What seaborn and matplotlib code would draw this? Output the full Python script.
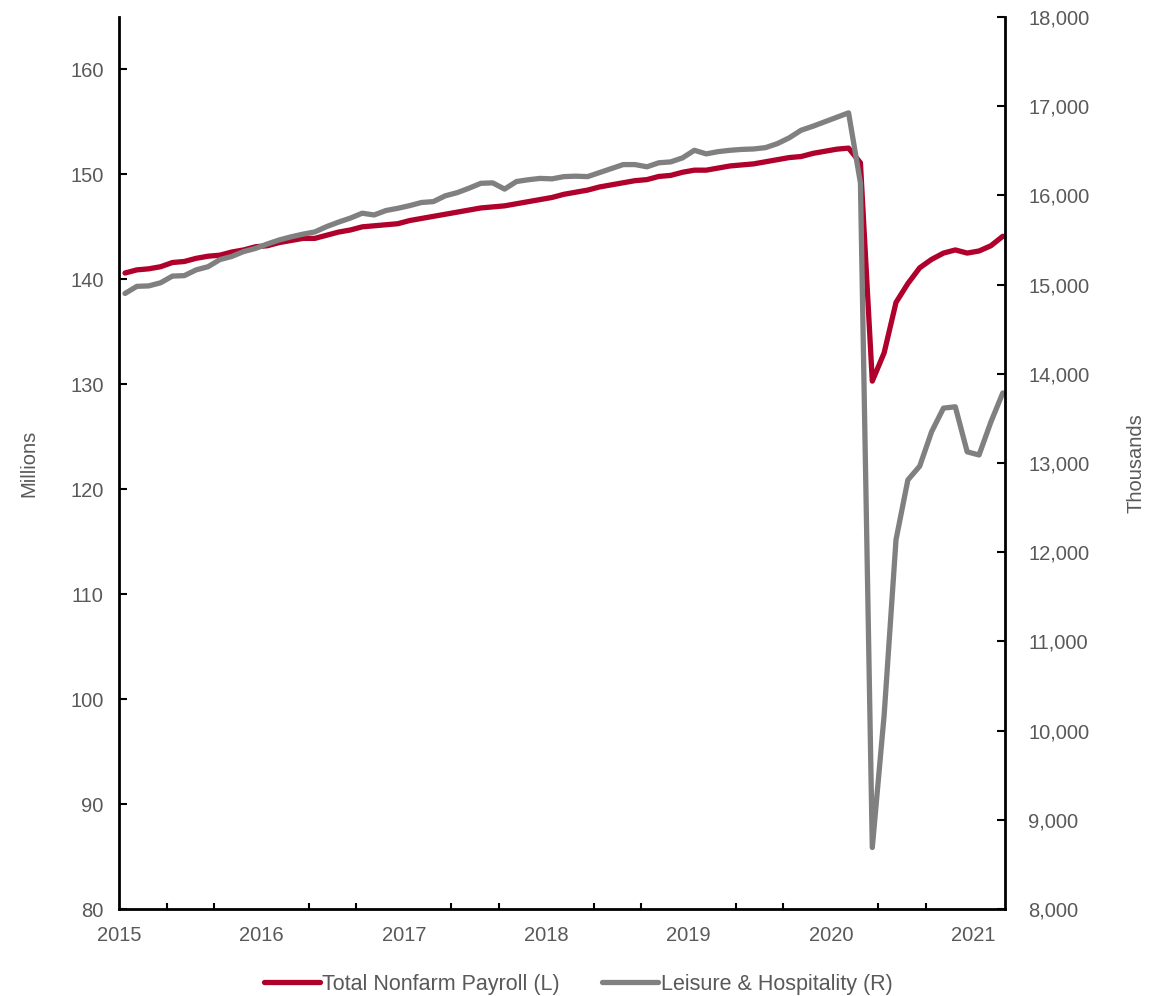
import numpy as np
import pandas as pd
import seaborn as sns
from matplotlib import pyplot as plt
from matplotlib.ticker import MultipleLocator, FuncFormatter

# monthly values, Jan 2015 .. Mar 2021
nonfarm_mn = [
    140.6, 140.9, 141.0, 141.2, 141.6, 141.7, 142.0, 142.2, 142.3, 142.6, 142.8, 143.1,
    143.2, 143.5, 143.7, 143.9, 143.9, 144.2, 144.5, 144.7, 145.0, 145.1, 145.2, 145.3,
    145.6, 145.8, 146.0, 146.2, 146.4, 146.6, 146.8, 146.9, 147.0, 147.2, 147.4, 147.6,
    147.8, 148.1, 148.3, 148.5, 148.8, 149.0, 149.2, 149.4, 149.5, 149.8, 149.9, 150.2,
    150.4, 150.4, 150.6, 150.8, 150.9, 151.0, 151.2, 151.4, 151.6, 151.7, 152.0, 152.2,
    152.4, 152.5, 151.1, 130.3, 133.0, 137.8, 139.6, 141.1, 141.9, 142.5, 142.8, 142.5,
    142.7, 143.2, 144.1]
leisure_th = [
    14900, 14980, 14985, 15020, 15095, 15100, 15165, 15200, 15280, 15315, 15370, 15405,
    15455, 15500, 15535, 15565, 15590, 15650, 15700, 15745, 15800, 15780, 15830, 15855,
    15885, 15920, 15930, 15995, 16030, 16080, 16135, 16140, 16070, 16155, 16175, 16190,
    16185, 16210, 16215, 16210, 16255, 16300, 16345, 16345, 16320, 16365, 16375, 16420,
    16505, 16465, 16490, 16505, 16515, 16520, 16535, 16580, 16645, 16730, 16775, 16825,
    16875, 16925, 16140, 8690, 10175, 12140, 12810, 12965, 13350, 13615, 13630, 13125,
    13090, 13460, 13785]
year_ticks = [2015, 2016, 2017, 2018, 2019, 2020, 2021]

red = "#B0002C"
grey = "#808080"
txt = "#595959"
fs = 14.5

# mid-month position in fractional years
months = np.arange(len(nonfarm_mn))
df = pd.DataFrame({"t": 2015 + (months + 0.5) / 12,
                   "nonfarm": nonfarm_mn, "leisure": leisure_th})

sns.set_style("white")
plt.rcParams['font.family'] = ['Liberation Sans', 'DejaVu Sans']

fig = plt.figure(figsize=(11.56, 9.96), dpi=100)
ax = fig.add_axes([0.103, 0.0873, 0.7665, 0.8957])
ax2 = ax.twinx()

sns.lineplot(data=df, x="t", y="nonfarm", ax=ax, color=red, lw=3.8,
             label="Total Nonfarm Payroll (L)", legend=False)
sns.lineplot(data=df, x="t", y="leisure", ax=ax2, color=grey, lw=3.8,
             label="Leisure & Hospitality (R)", legend=False)

ax.set_xlim(2015, 2021 + 2.7 / 12)
ax.set_ylim(80, 165)
ax2.set_ylim(8000, 18000)

ax.set_xticks(year_ticks)
ax.set_xticklabels([str(y) for y in year_ticks])
ax.xaxis.set_minor_locator(MultipleLocator(1 / 3))
ax.yaxis.set_major_locator(MultipleLocator(10))
ax2.yaxis.set_major_locator(MultipleLocator(1000))
ax2.yaxis.set_major_formatter(FuncFormatter(lambda v, p: f"{v:,.0f}"))

ax.set_xlabel("")
ax.set_ylabel("Millions", fontsize=fs, color=txt, labelpad=23)
ax2.set_ylabel("Thousands", fontsize=fs, color=txt, labelpad=27)

for a in (ax, ax2):
    for s in a.spines.values():
        s.set_visible(False)
ax.spines['left'].set_visible(True)
ax.spines['bottom'].set_visible(True)
ax2.spines['right'].set_visible(True)
for s in (ax.spines['left'], ax.spines['bottom'], ax2.spines['right']):
    s.set_color("black")
    s.set_linewidth(2)

ax.tick_params(axis='x', which='major', direction='in', length=6, width=1.5,
               colors="black", labelcolor=txt, labelsize=fs, pad=12.5)
ax.tick_params(axis='x', which='minor', direction='in', length=4, width=1.5,
               colors="black", bottom=True)
ax.tick_params(axis='y', direction='in', length=6, width=1.5, colors="black",
               labelcolor=txt, labelsize=fs, pad=11, left=True)
ax2.tick_params(axis='y', direction='in', length=6, width=1.5, colors="black",
                labelcolor=txt, labelsize=fs, pad=16.5, right=True)

h1, l1 = ax.get_legend_handles_labels()
h2, l2 = ax2.get_legend_handles_labels()
fig.legend(h1 + h2, l1 + l2, loc="center", bbox_to_anchor=(0.5, 0.012),
           ncol=2, frameon=False, fontsize=15.5, labelcolor=txt,
           handlelength=2.6, handletextpad=0.1, columnspacing=2.0)

plt.savefig("out.png", dpi=100)
plt.close()
